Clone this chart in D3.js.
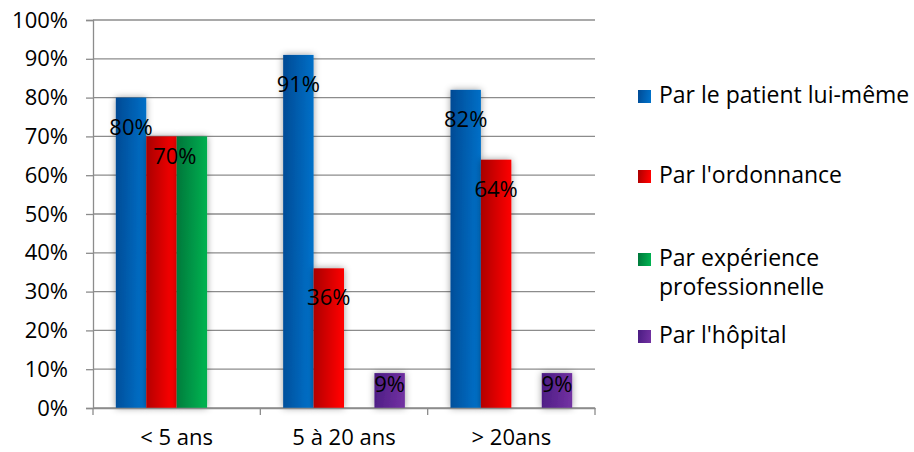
<!DOCTYPE html>
<html><head><meta charset="utf-8">
<script src="https://cdn.jsdelivr.net/npm/d3@7"></script>
<style>
body{margin:0;background:#fff}
svg text{font-family:"Open Sans",sans-serif;fill:#000}
</style>
</head><body>
<svg id="chart" width="914" height="452"></svg>
<script>
// ---- data ----
const categories = ["< 5 ans", "5 à 20 ans", "> 20ans"];
const seriesKeys = ["patient", "ordonnance", "experience", "hopital"];
const legendLabels = [["Par le patient lui-même"], ["Par l'ordonnance"], ["Par expérience", "professionnelle"], ["Par l'hôpital"]];
const patient = [80, 91, 82];
const ordonnance = [70, 36, 64];
const experience = [70, 0, 0];
const hopital = [0, 9, 9];
const yTicks = [0, 10, 20, 30, 40, 50, 60, 70, 80, 90, 100];
const tickLabels = ["0%", "10%", "20%", "30%", "40%", "50%", "60%", "70%", "80%", "90%", "100%"];

// ---- layout / style ----
const seriesData = {patient, ordonnance, experience, hopital};
const colors = {
  patient: ["#004a94", "#0070c8"],
  ordonnance: ["#a80000", "#ff0000"],
  experience: ["#00753a", "#00b050"],
  hopital: ["#4a1c82", "#7030a0"]
};
const plot = {left: 93, right: 595, top: 20, bottom: 408};
const svg = d3.select("#chart");
const defs = svg.append("defs");
seriesKeys.forEach(k => {
  const g = defs.append("linearGradient").attr("id", "g-" + k)
    .attr("x1", 0).attr("y1", 0).attr("x2", 1).attr("y2", 0.15);
  g.append("stop").attr("offset", "0%").attr("stop-color", colors[k][0]);
  g.append("stop").attr("offset", "100%").attr("stop-color", colors[k][1]);
});
const f = defs.append("filter").attr("id", "shadow").attr("x", "-40%").attr("y", "-20%").attr("width", "180%").attr("height", "140%");
f.append("feDropShadow").attr("dx", 0).attr("dy", 0).attr("stdDeviation", 3.5).attr("flood-color", "#000").attr("flood-opacity", 0.4);

const y = d3.scaleLinear().domain([0, 100]).range([plot.bottom, plot.top]);
const x0 = d3.scaleBand().domain(categories).range([plot.left, plot.right]).paddingInner(0).paddingOuter(0);
const x1 = d3.scaleBand().domain(seriesKeys).range([0, x0.bandwidth()]).paddingInner(0).paddingOuter(0.75);

// gridlines
svg.append("g").selectAll("line").data(yTicks).join("line")
  .attr("x1", plot.left).attr("x2", plot.right)
  .attr("y1", d => y(d)).attr("y2", d => y(d))
  .attr("stroke", "#8c8c8c").attr("stroke-width", 1.3);

// y axis
const yAxis = d3.axisLeft(y).tickValues(yTicks).tickFormat((d, i) => tickLabels[i]).tickSize(7).tickPadding(18);
const ya = svg.append("g").attr("transform", `translate(${plot.left},0)`).call(yAxis);
ya.select(".domain").attr("stroke", "#8c8c8c").attr("stroke-width", 1.3);
ya.selectAll(".tick line").attr("stroke", "#8c8c8c").attr("stroke-width", 1.3);
ya.selectAll("text").style("font-size", "22px").style("font-family", "Open Sans").attr("fill", "#000");

// bars
const groups = svg.append("g").selectAll("g").data(categories).join("g")
  .attr("transform", d => `translate(${x0(d)},0)`);
const barData = (c, ci) => seriesKeys.map(k => ({k, v: seriesData[k][ci], ci}));
groups.selectAll("rect").data((c, ci) => barData(c, ci).filter(d => d.v > 0)).join("rect")
  .attr("x", d => x1(d.k)).attr("width", x1.bandwidth())
  .attr("y", d => y(d.v)).attr("height", d => y(0) - y(d.v))
  .attr("fill", d => `url(#g-${d.k})`).attr("filter", "url(#shadow)");

// x axis
const xAxis = d3.axisBottom(x0).tickSize(0).tickPadding(0);
const xa = svg.append("g").attr("transform", `translate(0,${plot.bottom})`).call(xAxis);
xa.select(".domain").attr("stroke", "#8c8c8c").attr("stroke-width", 1.3);
xa.selectAll(".tick text").attr("y", 37).attr("dy", 0).style("font-size", "22px").style("font-family", "Open Sans").attr("fill", "#000");
xa.append("g").selectAll("line").data([0, 1, 2, 3]).join("line")
  .attr("x1", i => plot.left + i * x0.step()).attr("x2", i => plot.left + i * x0.step())
  .attr("y1", 0).attr("y2", 7).attr("stroke", "#8c8c8c").attr("stroke-width", 1.3);

// data labels (Excel-like inside-end, one overlapping label hidden)
const hidden = {"ordonnance-0": true};
const nudge = {"experience-0": {dx: -17, dy: -9}};
const labels = [];
categories.forEach((c, ci) => seriesKeys.forEach(k => {
  const v = seriesData[k][ci];
  if (v > 0 && !hidden[k + "-" + ci]) labels.push({k, v, ci, c});
}));
svg.append("g").selectAll("text").data(labels).join("text")
  .attr("x", d => x0(d.c) + x1(d.k) + x1.bandwidth() / 2 + ((nudge[d.k + "-" + d.ci] || {}).dx || 0))
  .attr("y", d => {
    const h = y(0) - y(d.v);
    const off = Math.min(29, h * 0.3);
    return y(d.v) + off + 8 + ((nudge[d.k + "-" + d.ci] || {}).dy || 0);
  })
  .attr("text-anchor", "middle").style("font-size", "22px").text(d => d.v + "%");

// legend
const legendY = [103, 183, 266, 343];
const lg = svg.append("g").selectAll("g").data(seriesKeys).join("g")
  .attr("transform", (d, i) => `translate(638,${legendY[i]})`);
lg.append("rect").attr("x", 0).attr("y", -13).attr("width", 13).attr("height", 13).attr("fill", d => `url(#g-${d})`);
lg.append("text").attr("x", 21).attr("y", 0).style("font-size", "23px")
  .selectAll("tspan").data((d, i) => legendLabels[i]).join("tspan")
  .attr("x", 21).attr("dy", (d, j) => j === 0 ? 0 : 29).text(d => d);
</script>
</body></html>
